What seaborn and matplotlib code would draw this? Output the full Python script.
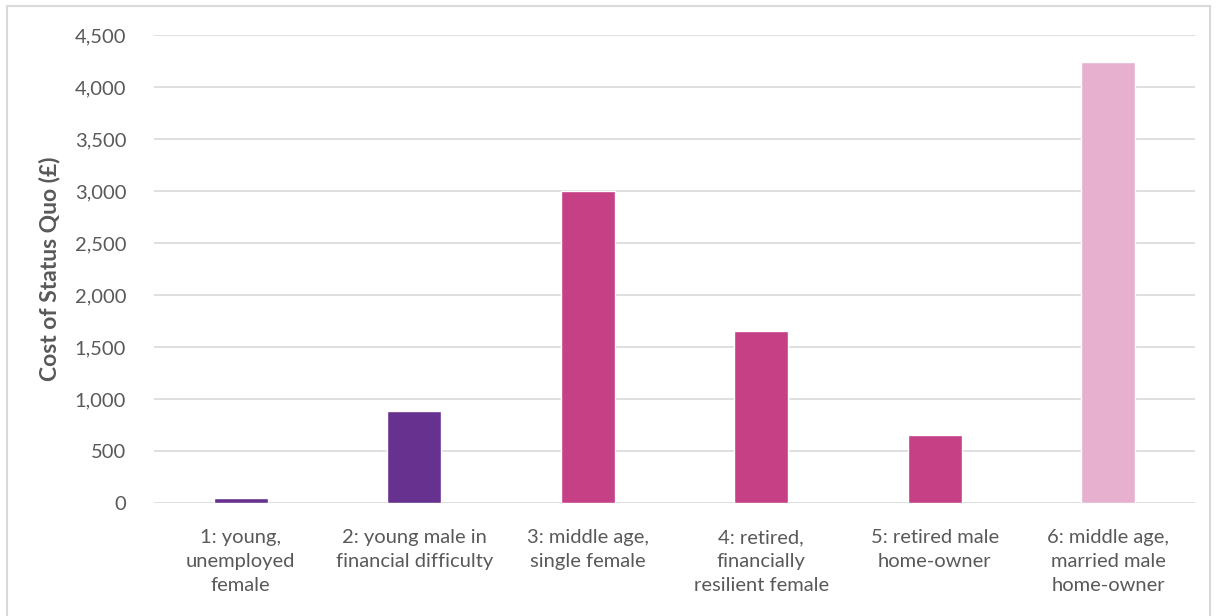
import matplotlib
matplotlib.use("Agg")
import matplotlib.pyplot as plt
import seaborn as sns
import pandas as pd
from matplotlib.patches import Rectangle

# data
segments = ["1: young,\nunemployed\nfemale",
            "2: young male in\nfinancial difficulty",
            "3: middle age,\nsingle female",
            "4: retired,\nfinancially\nresilient female",
            "5: retired male\nhome-owner",
            "6: middle age,\nmarried male\nhome-owner"]
cost = [50, 885, 3000, 1650, 650, 4240]
bar_colors = ["#66318F", "#66318F", "#C54084", "#C54084", "#C54084", "#E8B0CF"]

df = pd.DataFrame({"segment": segments, "cost": cost})

sns.set_style("white")
plt.rcParams["font.family"] = ["Lato", "DejaVu Sans"]

fig = plt.figure(figsize=(12.16, 6.16), dpi=100)
ax = fig.add_axes([0.1266, 0.1834, 0.856, 0.7596])

sns.barplot(data=df, x="segment", y="cost", hue="segment", palette=bar_colors,
            legend=False, width=0.31, saturation=1, ax=ax, zorder=3)

ax.set_ylim(0, 4500)
ax.set_xlim(-0.5, 5.5)
ax.set_yticks(range(0, 4501, 500))
ax.set_yticklabels([f"{v:,}" for v in range(0, 4501, 500)])
ax.yaxis.grid(True, color="#D9D9D9", linewidth=1.2, zorder=0)
ax.xaxis.grid(False)
for s in ax.spines.values():
    s.set_visible(False)

ax.tick_params(axis="y", length=0, pad=20, labelsize=14.5, labelcolor="#595959")
ax.tick_params(axis="x", length=0, pad=19, labelsize=14.5, labelcolor="#595959")
for lbl in ax.get_xticklabels():
    lbl.set_linespacing(1.5)
ax.set_xlabel("")
ax.set_ylabel("Cost of Status Quo (£)", fontsize=16.5, fontweight="bold",
              color="#595959", labelpad=10)

# light frame around the chart
fig.patches.append(Rectangle((0.006, -0.01), 0.989, 1.0, transform=fig.transFigure,
                             fill=False, edgecolor="#D9D9D9", linewidth=1.5))

fig.savefig("out.png", dpi=100)
